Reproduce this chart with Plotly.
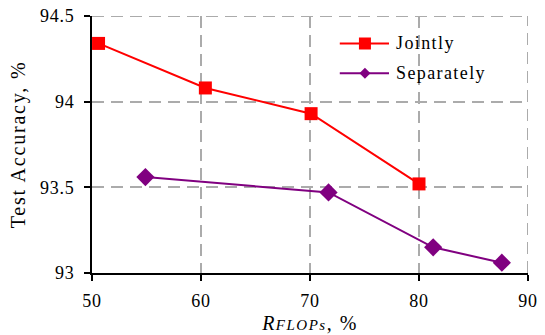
import plotly.graph_objects as go

jointly_x = [50.6, 60.4, 70.1, 80.0]
jointly_y = [94.34, 94.08, 93.93, 93.52]
separately_x = [54.9, 71.7, 81.3, 87.6]
separately_y = [93.56, 93.47, 93.15, 93.06]
x_ticks = [50, 60, 70, 80, 90]
y_ticks = [93, 93.5, 94, 94.5]
y_ticklabels = ["93", "93.5", "94", "94.5"]
series_names = ["Jointly", "Separately"]

FONT = "Liberation Serif"
GRID = "#ABABAB"
DASH = "12px,7px"
RED = "#FF0000"
PURPLE = "#800080"


def spaced(t, sp):
    return f"<span style='letter-spacing:{sp}px'>{t}</span>"


fig = go.Figure()
fig.add_trace(go.Scatter(
    x=jointly_x, y=jointly_y, mode="lines+markers", name=series_names[0],
    line=dict(color=RED, width=2),
    marker=dict(symbol="square", size=13, color=RED),
    cliponaxis=False, showlegend=False,
))
fig.add_trace(go.Scatter(
    x=separately_x, y=separately_y, mode="lines+markers", name=series_names[1],
    line=dict(color=PURPLE, width=2),
    marker=dict(symbol="diamond", size=14, color=PURPLE),
    cliponaxis=False, showlegend=False,
))

common = dict(showgrid=True, gridcolor=GRID, gridwidth=2, griddash=DASH, automargin=False,
              showline=True, linecolor="black", linewidth=2,
              ticks="outside", ticklen=6, tickcolor="black", tickwidth=2, zeroline=False,
              ticklabeloverflow="allow",
              tickfont=dict(size=18, color="black", family=FONT))
fig.update_xaxes(
    range=[50, 90], tickvals=x_ticks, ticktext=[spaced(str(v), 0.7) for v in x_ticks],
    ticklabelstandoff=4,
    title=dict(text=spaced("<i>R<span style='font-size:15px'>FLOPs</span></i>, %", 1.5), standoff=6,
               font=dict(size=20, color="black", family=FONT)),
    **common,
)
fig.update_yaxes(
    range=[93, 94.5], tickvals=y_ticks, ticktext=[spaced(t, 0.7) for t in y_ticklabels],
    ticklabelstandoff=6,
    title=dict(text=spaced("Test Accuracy, %", 1.8), standoff=9,
               font=dict(size=20, color="black", family=FONT)),
    **common,
)
# dashed grid lines at the top and right edges of the plot area
fig.add_shape(type="line", xref="paper", yref="y", x0=0, x1=1, y0=94.5, y1=94.5,
              line=dict(color=GRID, width=2, dash=DASH), layer="below")
fig.add_shape(type="line", xref="x", yref="paper", x0=90, x1=90, y0=0, y1=1,
              line=dict(color=GRID, width=2, dash=DASH), layer="below")

# custom legend (longer sample lines, as in the reference)
leg_y = [0.893, 0.777]
leg_colors = [RED, PURPLE]
lx0, lx1, lxm, ltx = 0.5683, 0.6812, 0.626, 0.6927
for i in range(2):
    fig.add_shape(type="line", xref="paper", yref="paper", x0=lx0, x1=lx1, y0=leg_y[i], y1=leg_y[i],
                  line=dict(color=leg_colors[i], width=2))
    fig.add_annotation(xref="paper", yref="paper", x=ltx, y=leg_y[i], xanchor="left", yanchor="middle",
                       text=spaced(series_names[i], 1.4), showarrow=False,
                       font=dict(size=18, family=FONT, color="black"))
fig.add_shape(type="rect", xref="paper", yref="paper", xsizemode="pixel", ysizemode="pixel",
              xanchor=lxm, yanchor=leg_y[0], x0=-6, x1=6, y0=-6, y1=6,
              fillcolor=RED, line=dict(width=0))
fig.add_shape(type="path", xref="paper", yref="paper", xsizemode="pixel", ysizemode="pixel",
              xanchor=lxm, yanchor=leg_y[1], path="M -5.5 0 L 0 5.5 L 5.5 0 L 0 -5.5 Z",
              fillcolor=PURPLE, line=dict(width=0))

fig.update_layout(
    width=545, height=335,
    margin=dict(l=92, r=17, t=16, b=62, autoexpand=False),
    plot_bgcolor="white", paper_bgcolor="white",
    font=dict(family=FONT, color="black"),
    showlegend=False,
)
fig.write_html("out.html", config={"displayModeBar": False},
               post_script="document.body.style.margin='0';document.body.style.overflow='hidden';")
